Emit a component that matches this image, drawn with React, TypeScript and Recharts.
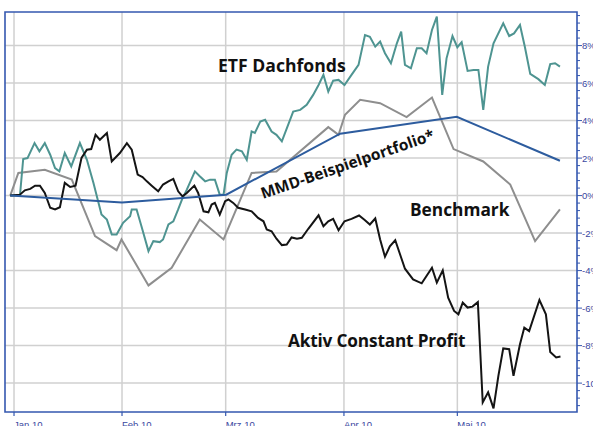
import { LineChart, Line, XAxis, YAxis, CartesianGrid, ReferenceArea } from "recharts"

// x = trading-day index (0 = start of Jan 10), y = performance in %
const MONTH_TICKS = [0, 20, 39.2, 61.1, 82.1]
const MONTH_LABELS = ["Jan 10", "Feb 10", "Mrz 10", "Apr 10", "Mai 10"]
const Y_MAJOR = [-10, -8, -6, -4, -2, 0, 2, 4, 6, 8]
const Y_MINOR_STEP = 0.4
const X_DOMAIN = [-1.67, 104.26]
const Y_DOMAIN = [-11.54, 9.79]

const ETF: [number, number][] = [
  [-0.7, 0], [1.1, 0], [1.7, 1.95], [2.5, 2.0], [3.8, 2.8], [4.7, 2.36], [5.7, 2.8], [6.7, 2.18],
  [7.6, 1.47], [8.4, 1.29], [9.4, 2.27], [10.6, 1.56], [12.2, 2.8], [13.5, 1.91], [14.7, 0.68],
  [16.2, -1.01], [17.2, -1.28], [18.1, -2.07], [19.0, -2.07], [20.2, -1.45], [21.5, -1.1],
  [21.8, -0.74], [22.7, -0.74], [23.6, -1.63], [24.9, -2.96], [25.8, -2.43], [27.0, -2.48],
  [27.6, -2.34], [28.6, -1.54], [29.5, -1.37], [30.4, -0.74], [31.1, -0.21], [32.0, 0.32],
  [33.5, 1.29], [34.4, 1.03], [35.4, 0.76], [36.3, 0.85], [37.2, 0.85], [38.1, 0.05], [38.8, 0.05],
  [39.4, 1.21], [40.3, 2.18], [41.2, 2.45], [42.2, 2.36], [43.1, 1.91], [44.0, 3.42], [44.6, 3.34],
  [45.6, 3.95], [46.5, 4.04], [47.7, 3.42], [48.6, 3.24], [49.6, 2.89], [51.7, 4.48], [53.0, 4.57],
  [54.2, 4.84], [55.4, 5.37], [56.4, 5.9], [57.3, 6.44], [58.2, 5.55], [59.1, 6.13], [60.1, 6.17],
  [61.2, 5.9], [62.5, 6.44], [63.8, 6.97], [65.0, 8.56], [65.9, 8.47], [66.9, 7.94], [67.8, 8.21],
  [68.7, 7.59], [69.8, 7.06], [70.9, 8.12], [71.7, 8.74], [72.4, 6.97], [73.5, 6.79], [74.6, 7.86],
  [75.5, 7.86], [76.4, 7.59], [77.4, 8.83], [78.3, 9.54], [79.3, 5.37], [80.1, 7.32], [81.2, 8.51],
  [82.1, 7.91], [82.9, 8.18], [84.0, 6.65], [85.1, 6.7], [86.0, 6.7], [86.9, 4.57], [87.8, 6.88],
  [88.8, 8.12], [90.6, 9.19], [91.7, 8.51], [92.6, 8.65], [93.7, 9.1], [94.6, 7.94], [95.6, 6.49],
  [97.1, 6.21], [98.3, 5.9], [99.3, 7.01], [100.2, 7.06], [101.1, 6.88],
]

const AKTIV: [number, number][] = [
  [-0.7, 0], [1.1, 0.05], [2.0, 0.28], [3.0, 0.36], [3.9, 0.53], [4.8, 0.53], [5.7, 0.14],
  [6.7, -0.65], [7.6, -0.74], [8.5, -0.62], [9.4, 0.68], [10.4, 0.46], [11.4, 0.53], [12.5, 2.01],
  [13.5, 2.45], [14.3, 2.48], [15.1, 3.24], [15.9, 2.98], [17.2, 3.34], [18.1, 1.82], [19.6, 2.27],
  [20.9, 2.8], [21.8, 2.45], [22.9, 1.12], [23.8, 0.99], [24.6, 0.76], [25.5, 0.53], [26.7, 0.23],
  [27.6, 0.59], [28.6, 0.76], [29.5, 0.89], [30.4, 0.23], [31.2, -0.04], [32.0, 0.14], [33.4, 0.53],
  [34.1, 0.14], [35.1, -0.84], [36.0, -0.89], [36.6, -0.48], [37.2, -0.39], [38.1, -1.01],
  [39.1, -0.3], [39.7, -0.21], [40.6, -0.39], [41.5, -0.65], [42.8, -0.74], [44.0, -0.84],
  [45.2, -1.19], [46.2, -1.37], [46.8, -1.81], [47.7, -1.9], [48.6, -2.3], [49.6, -2.64],
  [50.5, -2.61], [51.4, -2.23], [52.4, -2.3], [53.3, -2.25], [54.5, -1.77], [56.4, -1.05],
  [57.3, -1.63], [58.2, -1.37], [59.1, -1.24], [60.1, -1.85], [61.2, -1.37], [62.5, -1.24],
  [63.9, -1.06], [65.0, -1.31], [65.9, -1.54], [66.9, -1.22], [67.8, -2.34], [68.7, -3.26],
  [69.6, -2.7], [70.6, -2.38], [71.5, -3.14], [72.4, -3.9], [73.9, -4.47], [75.5, -4.68],
  [77.4, -3.85], [78.3, -4.64], [79.4, -3.99], [80.4, -5.44], [81.5, -6.15], [82.3, -6.33],
  [83.1, -5.71], [84.0, -5.97], [84.9, -5.92], [85.9, -5.68], [86.8, -11.03], [87.8, -10.49],
  [88.8, -11.35], [89.7, -9.61], [90.6, -8.15], [91.7, -8.19], [92.5, -9.61], [93.7, -7.93],
  [94.5, -7.04], [95.4, -7.23], [97.3, -5.57], [98.5, -6.33], [99.3, -8.34], [100.4, -8.63],
  [101.2, -8.58],
]

const BENCHMARK: [number, number][] = [
  [-0.7, 0], [0.8, 1.21], [5.7, 1.38], [10.7, 0.85], [15.0, -2.16], [19.0, -2.91], [19.9, -2.34],
  [24.9, -4.79], [29.2, -3.85], [34.4, -1.28], [38.8, -2.34], [44.0, 1.21], [48.6, 1.29],
  [58.2, 3.65], [60.1, 3.24], [61.3, 4.31], [64.1, 5.11], [67.8, 4.93], [72.7, 4.19], [77.4, 5.23],
  [81.4, 2.48], [86.9, 1.82], [91.9, 0.59], [96.5, -2.43], [101.1, -0.74],
]

const MMD: [number, number][] = [
  [-0.7, 0], [20.0, -0.37], [39.3, 0.05], [60.4, 3.3], [82.0, 4.2], [101.1, 1.86],
]

const toRows = (pts: [number, number][]) => pts.map(([x, v]) => ({ x, v }))

const yTicks: number[] = []
for (let k = Math.ceil(Y_DOMAIN[0] / Y_MINOR_STEP); k * Y_MINOR_STEP <= Y_DOMAIN[1]; k++) {
  yTicks.push(Math.round(k * Y_MINOR_STEP * 10) / 10)
}

const AXIS_BLUE = "#3558b0"
const LABEL_BLUE = "#3a47a0"

const YTick = ({ x, y, payload }: any) => {
  const v = payload.value
  const major = Y_MAJOR.includes(v)
  return (
    <g>
      <line x1={x} x2={x + (major ? 5 : 3)} y1={y} y2={y} stroke={AXIS_BLUE} strokeWidth={1} />
      {major && (
        <text x={x + 5} y={y + 3.5} fontSize={9.5} fontFamily="Liberation Sans" fill={LABEL_BLUE}>
          {v}%
        </text>
      )}
    </g>
  )
}

const XTick = ({ x, y, payload, index }: any) => (
  <g>
    <line x1={x} x2={x} y1={y} y2={y + 4} stroke={AXIS_BLUE} strokeWidth={1.2} />
    <text x={x} y={y + 16} fontSize={9.5} fontFamily="Liberation Sans" fill={LABEL_BLUE}>
      {MONTH_LABELS[index]}
    </text>
  </g>
)

const note = { fontFamily: "Open Sans", fontWeight: 700, fill: "#111" } as const

export default function App() {
  return (
    <div style={{ position: "absolute", left: 0, top: 0, width: 593, height: 426, overflow: "hidden", background: "#fff" }}>
      <LineChart width={593} height={426} margin={{ top: 12, right: 0, bottom: 0, left: 5 }}>
        <CartesianGrid
          stroke="#d0d0d0"
          strokeWidth={1.5}
          horizontalValues={Y_MAJOR}
          verticalValues={MONTH_TICKS}
        />
        <XAxis
          dataKey="x"
          type="number"
          domain={X_DOMAIN}
          ticks={MONTH_TICKS}
          allowDataOverflow
          height={14}
          axisLine={false}
          tickLine={false}
          tickSize={0}
          tickMargin={0}
          interval={0}
          tick={<XTick />}
        />
        <YAxis
          orientation="right"
          type="number"
          domain={Y_DOMAIN}
          ticks={yTicks}
          allowDataOverflow
          width={16}
          axisLine={false}
          tickLine={false}
          tickSize={0}
          tickMargin={0}
          interval={0}
          tick={<YTick />}
        />
        <ReferenceArea
          x1={X_DOMAIN[0]}
          x2={X_DOMAIN[1]}
          y1={Y_DOMAIN[0]}
          y2={Y_DOMAIN[1]}
          fill="none"
          stroke={AXIS_BLUE}
          strokeWidth={1.6}
          ifOverflow="visible"
        />
        <Line data={toRows(BENCHMARK)} dataKey="v" type="linear" stroke="#8e8e8e" strokeWidth={2} dot={false} isAnimationActive={false} />
        <Line data={toRows(ETF)} dataKey="v" type="linear" stroke="#4e9491" strokeWidth={2} dot={false} isAnimationActive={false} />
        <Line data={toRows(AKTIV)} dataKey="v" type="linear" stroke="#141414" strokeWidth={2} dot={false} isAnimationActive={false} />
        <Line data={toRows(MMD)} dataKey="v" type="linear" stroke="#2d5c9e" strokeWidth={2} dot={false} isAnimationActive={false} />
      </LineChart>
      <svg width={593} height={426} style={{ position: "absolute", left: 0, top: 0, pointerEvents: "none" }}>
        <text x={218} y={72} fontSize={17.6} {...note}>ETF Dachfonds</text>
        <text x={410} y={216} fontSize={17.3} {...note}>Benchmark</text>
        <text x={288} y={347} fontSize={17.2} letterSpacing={-0.15} {...note}>Aktiv Constant Profit</text>
        <text transform="translate(263,199) rotate(-19)" fontSize={15.5} {...note}>MMD-Beispielportfolio*</text>
      </svg>
    </div>
  )
}
